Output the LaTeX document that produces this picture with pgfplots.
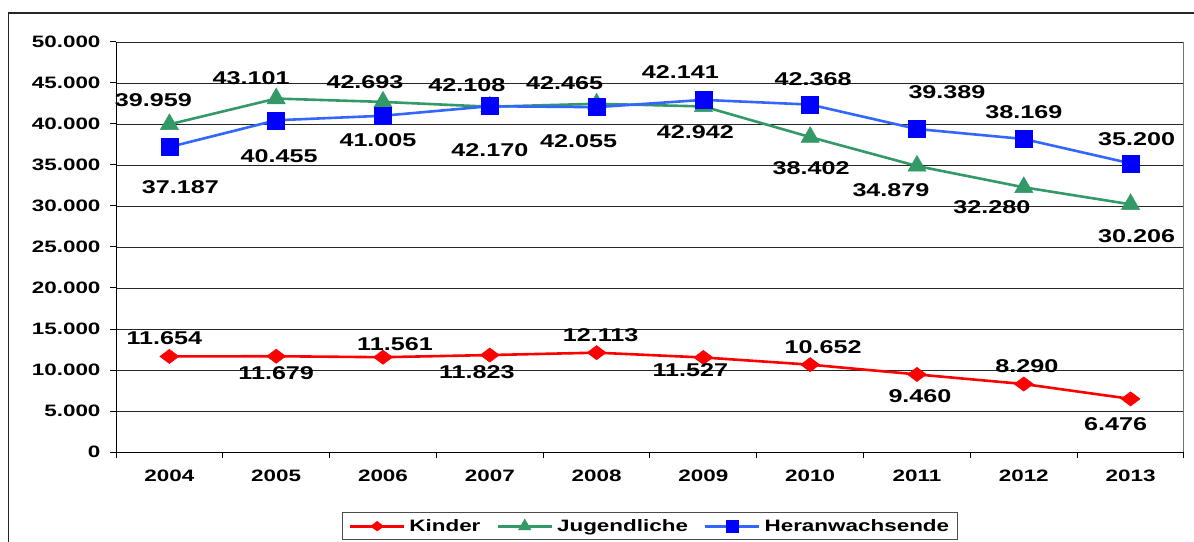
\documentclass[border=0pt]{standalone}
\usepackage{fontspec}
\setmainfont{Liberation Sans}[FakeStretch=1.36]
\usepackage{pgfplots}
\pgfplotsset{compat=1.18}
\usepackage{pgfplotstable}
\definecolor{kred}{HTML}{FF0000}
\definecolor{jgreen}{HTML}{339966}
\definecolor{hblue}{HTML}{3366FF}
\definecolor{hmark}{HTML}{0000FF}

\pgfplotstableread{
x y dx dy
0 11654 -5 18
1 11679 0 -17
2 11561 12 13
3 11823 -13 -17
4 12113 4 18
5 11527 -13 -13
6 10652 13 18
7 9460 3 -22
8 8290 3 18
9 6476 -15 -25
}\kinder
\pgfplotstableread{
x y dx dy
0 39959 -16 24
1 43101 -25 20
2 42693 -18 20
3 42108 -23 22
4 42465 -32 21
5 42141 -23 34
6 38402 1 -31
7 34879 -26 -24
8 32280 -32 -20
9 30206 6 -32
}\jugend
\pgfplotstableread{
x y dx dy
0 37187 11 -40
1 40455 3 -36
2 41005 -5 -24
3 42170 0 -44
4 42055 -18 -34
5 42942 -8 -32
6 42368 3 25
7 39389 30 37
8 38169 0 27
9 35200 6 24
}\heran

\pgfplotsset{/pgf/number format/assume math mode=true,
  /pgf/number format/1000 sep={.},
  /pgf/number format/fixed,
  /pgf/number format/precision=0}

\begin{document}
\begin{tikzpicture}[x=1pt,y=1pt]
\useasboundingbox (0,0) rectangle (1194,541);
\clip (0,0) rectangle (1194,541);
\fill[white] (0,0) rectangle (1194,541);
\draw[line width=1.2pt, black!85] (8.5,-20) -- (8.5,528) -- (1250,528);
\begin{axis}[
  at={(116pt,89pt)}, anchor=south west,
  scale only axis, width=1068pt, height=410pt,
  xmin=-0.5, xmax=9.5, ymin=0, ymax=50000,
  axis x line*=bottom, axis y line*=left,
  axis line style={line width=1pt, black},
  xtick={0,...,9},
  xticklabels={2004,2005,2006,2007,2008,2009,2010,2011,2012,2013},
  major x tick style={draw=none},
  minor xtick={-0.5,0.5,1.5,2.5,3.5,4.5,5.5,6.5,7.5,8.5,9.5},
  minor tick length=6pt,
  minor x tick style={line width=1pt, black},
  ytick={0,5000,...,50000},
  major tick length=6pt,
  y tick style={line width=1pt, black},
  tick align=outside,
  scaled y ticks=false,
  ymajorgrids=true,
  grid style={line width=0.9pt, black!85},
  ticklabel style={font=\fontsize{16.5}{16.5}\selectfont\bfseries, text=black},
  yticklabel style={xshift=-6pt},
  xticklabel style={yshift=-8pt},
  clip=false,
  legend columns=3,
  legend style={at={(axis description cs:0.5,-0.1463)}, anchor=north,
    draw=black!70, line width=1pt, font=\fontsize{16.5}{16.5}\selectfont\bfseries,
    /tikz/every even column/.append style={column sep=14pt},
    /tikz/every odd column/.append style={column sep=2pt},
    inner xsep=6pt, inner ysep=5pt},
  legend image code/.code={\draw[#1, mark repeat=2, mark phase=2,
      every mark/.append style={scale=0.68}]
      plot coordinates {(0pt,0pt) (27pt,0pt) (54pt,0pt)};},
  every node near coord/.append style={anchor=center,
    xshift=\dx pt, yshift=\dy pt,
    font=\fontsize{18.5}{18.5}\selectfont\bfseries, text=black},
  visualization depends on={\thisrow{dx} \as \dx},
  visualization depends on={\thisrow{dy} \as \dy},
]
\draw[line width=1pt, black!55] (rel axis cs:1,0) -- (rel axis cs:1,1);
\addplot[kred, line width=2.6pt, mark=diamond*, mark size=9.5pt,
  mark options={rotate=90, fill=kred, draw=kred, line width=0.5pt},
  nodes near coords] table[x=x,y=y] {\kinder};
\addlegendentry{Kinder}
\addplot[jgreen, line width=2.6pt, mark=triangle*, mark size=10.5pt,
  mark options={fill=jgreen, draw=jgreen, line width=0.5pt},
  nodes near coords] table[x=x,y=y] {\jugend};
\addlegendentry{Jugendliche}
\addplot[hblue, line width=2.6pt, mark=square*, mark size=8.5pt,
  mark options={fill=hmark, draw=hmark, line width=0.5pt},
  nodes near coords] table[x=x,y=y] {\heran};
\addlegendentry{Heranwachsende}
\end{axis}
\end{tikzpicture}
\end{document}
